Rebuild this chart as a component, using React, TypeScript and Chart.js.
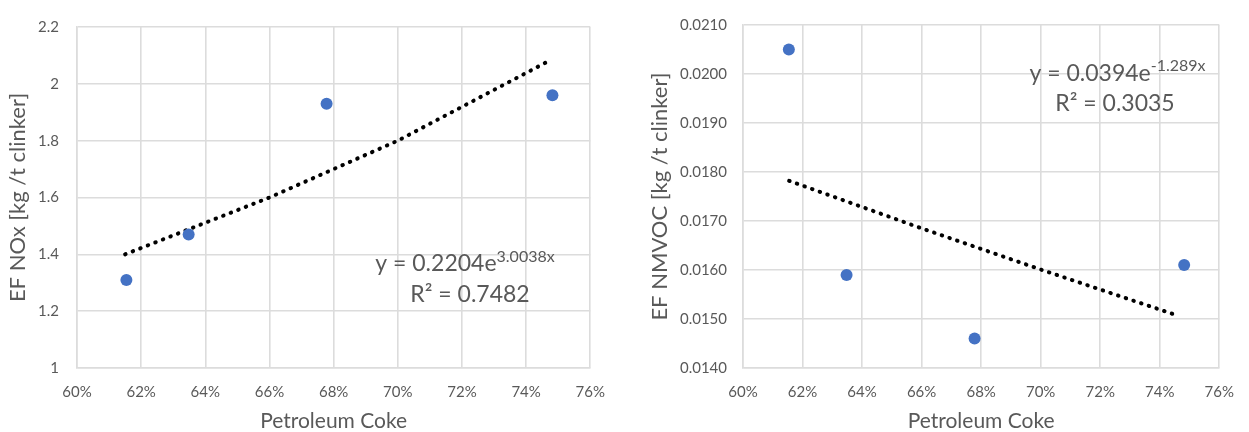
import React, { useEffect, useRef } from "react";
import { Chart, registerables } from "chart.js";

Chart.register(...registerables);

// ---- Data ----
const cokeShare = [61.54, 63.48, 67.78, 74.82];
const noxValues = [1.31, 1.47, 1.93, 1.96];
const nmvocValues = [0.0205, 0.0159, 0.0146, 0.0161];

const noxTrendX = [61.5, 66, 70, 74.7];
const noxTrendY = [1.4, 1.6, 1.8, 2.08];
const nmvocTrendX = [61.55, 66, 70, 74.6];
const nmvocTrendY = [0.01782, 0.01685, 0.01601, 0.01507];

const xTickValues = [60, 62, 64, 66, 68, 70, 72, 74, 76];
const xTickLabels = ["60%", "62%", "64%", "66%", "68%", "70%", "72%", "74%", "76%"];
const noxTickValues = [1, 1.2, 1.4, 1.6, 1.8, 2, 2.2];
const noxTickLabels = ["1", "1.2", "1.4", "1.6", "1.8", "2", "2.2"];
const nmvocTickValues = [0.014, 0.015, 0.016, 0.017, 0.018, 0.019, 0.02, 0.021];
const nmvocTickLabels = ["0.0140", "0.0150", "0.0160", "0.0170", "0.0180", "0.0190", "0.0200", "0.0210"];

const xTitle = "Petroleum Coke";
const noxTitle = "EF NOx [kg /t clinker]";
const nmvocTitle = "EF NMVOC [kg /t clinker]";

const noxEquation = { base: "y = 0.2204e", exp: "3.0038x", r2: "R\u00B2 = 0.7482" };
const nmvocEquation = { base: "y = 0.0394e", exp: "-1.289x", r2: "R\u00B2 = 0.3035" };

const TEXT = "#595959";
const GRID = "#dcdcdc";
const BLUE = "#4472C4";
const FONT = "Lato";

const equationPlugin = {
  id: "equation",
  afterDatasetsDraw(chart: any, _args: any, opts: any) {
    if (!opts || !opts.base) return;
    const { ctx, chartArea } = chart;
    ctx.save();
    ctx.fillStyle = TEXT;
    ctx.textBaseline = "alphabetic";
    const mainFont = `${opts.size}px ${FONT}`;
    const supFont = `${opts.supSize}px ${FONT}`;
    ctx.font = mainFont;
    const w1 = ctx.measureText(opts.base).width;
    ctx.font = supFont;
    const w2 = ctx.measureText(opts.exp).width;
    const x = chartArea.left + opts.cx1 - (w1 + w2) / 2;
    const y1 = chartArea.top + opts.y1;
    ctx.textAlign = "left";
    ctx.font = mainFont;
    ctx.fillText(opts.base, x, y1);
    ctx.font = supFont;
    ctx.fillText(opts.exp, x + w1, y1 - opts.supRaise);
    ctx.font = mainFont;
    ctx.textAlign = "center";
    ctx.fillText(opts.r2, chartArea.left + opts.cx2, chartArea.top + opts.y2);
    ctx.restore();
  },
};

function makeConfig(p: any) {
  return {
    type: "scatter",
    data: {
      datasets: [
        {
          label: "points",
          data: cokeShare.map((x, i) => ({ x, y: p.values[i] })),
          backgroundColor: BLUE,
          borderColor: BLUE,
          pointRadius: 6,
          pointHoverRadius: 6,
          borderWidth: 0,
          showLine: false,
          order: 1,
        },
        {
          label: "trend",
          data: p.trendX.map((x: number, i: number) => ({ x, y: p.trendY[i] })),
          showLine: true,
          borderColor: "#000000",
          borderWidth: 4,
          borderDash: [0.5, 7.6],
          borderCapStyle: "round",
          pointRadius: 0,
          fill: false,
          tension: 0,
          order: 2,
        },
      ],
    },
    options: {
      animation: false,
      responsive: false,
      maintainAspectRatio: false,
      events: [],
      layout: { padding: { left: 0, top: 22, right: p.padRight, bottom: 0 } },
      plugins: {
        legend: { display: false },
        tooltip: { enabled: false },
        equation: p.equation,
      },
      scales: {
        x: {
          type: "linear",
          min: 60,
          max: 76,
          afterBuildTicks: (s: any) => {
            s.ticks = xTickValues.map((v) => ({ value: v }));
          },
          afterFit: (s: any) => {
            s.height = 64;
          },
          ticks: {
            callback: (_v: any, i: number) => xTickLabels[i],
            color: TEXT,
            font: { family: FONT, size: 15 },
            padding: 15,
            maxRotation: 0,
            autoSkip: false,
          },
          grid: { color: GRID, lineWidth: 1.6, drawTicks: false },
          border: { color: GRID, width: 1.6 },
          title: {
            display: true,
            text: xTitle,
            color: TEXT,
            font: { family: FONT, size: 21, lineHeight: 1 },
            padding: { top: 0, bottom: 0 },
          },
        },
        y: {
          type: "linear",
          min: p.yMin,
          max: p.yMax,
          afterBuildTicks: (s: any) => {
            s.ticks = p.yTickValues.map((v: number) => ({ value: v }));
          },
          afterFit: (s: any) => {
            s.width = p.yWidth;
          },
          ticks: {
            callback: (_v: any, i: number) => p.yTickLabels[i],
            color: TEXT,
            font: { family: FONT, size: 15 },
            padding: p.tickPad,
            autoSkip: false,
          },
          grid: { color: GRID, lineWidth: 1.6, drawTicks: false },
          border: { color: GRID, width: 1.6 },
          title: {
            display: true,
            text: p.yTitle,
            color: TEXT,
            font: { family: FONT, size: 22, lineHeight: 1.2 },
            padding: { top: p.titlePad, bottom: 0 },
          },
        },
      },
    },
    plugins: [equationPlugin],
  } as any;
}

function ChartCanvas({ config, width, height, left }: any) {
  const ref = useRef<HTMLCanvasElement | null>(null);
  useEffect(() => {
    if (!ref.current) return;
    const chart = new Chart(ref.current, config);
    return () => chart.destroy();
  }, [config]);
  return (
    <canvas
      ref={ref}
      width={width}
      height={height}
      style={{ position: "absolute", left, top: 0, width, height, display: "block" }}
    />
  );
}

const leftConfig = makeConfig({
  values: noxValues,
  trendX: noxTrendX,
  trendY: noxTrendY,
  yMin: 1,
  yMax: 2.2,
  yTickValues: noxTickValues,
  yTickLabels: noxTickLabels,
  yTitle: noxTitle,
  yWidth: 77,
  tickPad: 18,
  titlePad: 5,
  padRight: 27,
  equation: { ...noxEquation, size: 23, supSize: 16, supRaise: 9, cx1: 388, y1: 244, cx2: 393, y2: 275 },
});

const rightConfig = makeConfig({
  values: nmvocValues,
  trendX: nmvocTrendX,
  trendY: nmvocTrendY,
  yMin: 0.014,
  yMax: 0.021,
  yTickValues: nmvocTickValues,
  yTickLabels: nmvocTickLabels,
  yTitle: nmvocTitle,
  yWidth: 123,
  tickPad: 16,
  titlePad: 27,
  padRight: 17,
  equation: { ...nmvocEquation, size: 23, supSize: 16, supRaise: 10, cx1: 374.5, y1: 56, cx2: 372, y2: 86 },
});

export default function App() {
  return (
    <div style={{ position: "absolute", left: 0, top: 0, width: 1249, height: 432, background: "#ffffff" }}>
      <ChartCanvas config={leftConfig} width={620} height={432} left={0} />
      <ChartCanvas config={rightConfig} width={629} height={432} left={620} />
    </div>
  );
}
